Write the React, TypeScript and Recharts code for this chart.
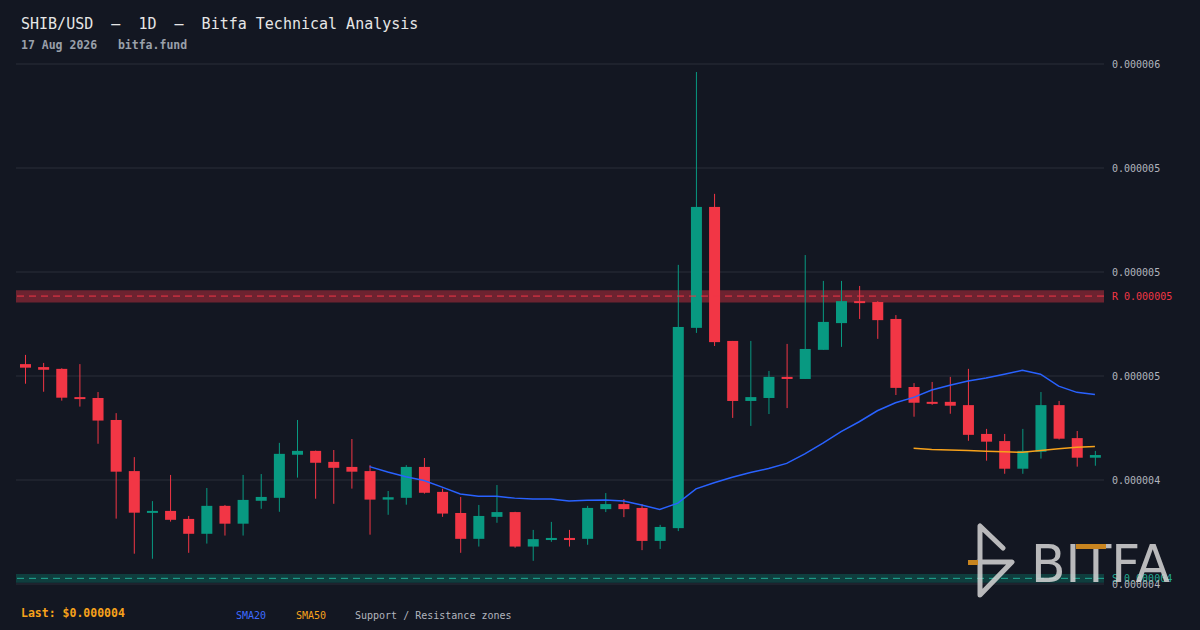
import {
  ComposedChart,
  Bar,
  Line,
  XAxis,
  YAxis,
  CartesianGrid,
  ReferenceArea,
  ReferenceLine,
} from 'recharts';

// prices are in millionths of a dollar (4.74 -> $0.00000474)
const OPEN = [
  4.740, 4.730, 4.724, 4.629, 4.626, 4.552, 4.380, 4.240, 4.246, 4.219,
  4.169, 4.263, 4.203, 4.280, 4.290, 4.435, 4.448, 4.411, 4.394, 4.380,
  4.284, 4.290, 4.394, 4.310, 4.239, 4.152, 4.226, 4.242, 4.126, 4.148,
  4.155, 4.152, 4.252, 4.269, 4.256, 4.145, 4.188, 4.862, 5.269, 4.818,
  4.616, 4.626, 4.697, 4.690, 4.788, 4.878, 4.952, 4.949, 4.892, 4.663,
  4.613, 4.613, 4.602, 4.505, 4.481, 4.388, 4.445, 4.602, 4.491, 4.425,
];
const HIGH = [
  4.771, 4.744, 4.726, 4.740, 4.646, 4.575, 4.427, 4.279, 4.367, 4.229,
  4.323, 4.266, 4.367, 4.370, 4.475, 4.552, 4.449, 4.451, 4.488, 4.400,
  4.313, 4.400, 4.424, 4.321, 4.293, 4.266, 4.333, 4.243, 4.182, 4.209,
  4.182, 4.263, 4.306, 4.286, 4.269, 4.199, 5.074, 5.723, 5.313, 4.818,
  4.818, 4.717, 4.808, 5.107, 5.020, 5.020, 5.003, 4.952, 4.905, 4.676,
  4.680, 4.697, 4.724, 4.522, 4.505, 4.522, 4.646, 4.616, 4.515, 4.448,
];
const LOW = [
  4.674, 4.647, 4.617, 4.597, 4.472, 4.220, 4.102, 4.085, 4.210, 4.105,
  4.136, 4.163, 4.163, 4.253, 4.243, 4.358, 4.287, 4.270, 4.321, 4.166,
  4.233, 4.267, 4.304, 4.226, 4.105, 4.126, 4.206, 4.122, 4.078, 4.142,
  4.126, 4.132, 4.242, 4.225, 4.114, 4.118, 4.178, 4.845, 4.801, 4.559,
  4.532, 4.572, 4.592, 4.690, 4.788, 4.798, 4.892, 4.825, 4.636, 4.563,
  4.603, 4.573, 4.482, 4.415, 4.371, 4.371, 4.422, 4.486, 4.395, 4.398,
];
const CLOSE = [
  4.728, 4.721, 4.627, 4.624, 4.550, 4.378, 4.240, 4.246, 4.216, 4.169,
  4.263, 4.203, 4.283, 4.293, 4.438, 4.448, 4.408, 4.391, 4.378, 4.284,
  4.292, 4.394, 4.307, 4.237, 4.152, 4.229, 4.242, 4.126, 4.151, 4.155,
  4.148, 4.256, 4.269, 4.252, 4.145, 4.192, 4.865, 5.269, 4.814, 4.616,
  4.629, 4.697, 4.690, 4.791, 4.882, 4.952, 4.946, 4.888, 4.660, 4.610,
  4.607, 4.600, 4.502, 4.479, 4.388, 4.448, 4.602, 4.489, 4.425, 4.434,
];

// moving averages start once enough candles exist
const SMA20_VALUES = [
  4.395, 4.377, 4.361, 4.348, 4.326, 4.303, 4.295, 4.295, 4.289, 4.286,
  4.286, 4.279, 4.282, 4.283, 4.279, 4.266, 4.251, 4.272, 4.320, 4.341,
  4.359, 4.375, 4.389, 4.406, 4.438, 4.474, 4.513, 4.546, 4.583, 4.610,
  4.628, 4.653, 4.669, 4.683, 4.693, 4.706, 4.719, 4.706, 4.666, 4.645,
  4.638,
];
const SMA50_VALUES = [
  4.457, 4.453, 4.451, 4.449, 4.447, 4.445, 4.443, 4.449, 4.455, 4.460, 4.463,
];

const RESISTANCE = { low: 4.947, mid: 4.969, high: 4.989 };
const SUPPORT = { low: 4.004, mid: 4.019, high: 4.034 };

const Y_TICKS = [4.0, 4.35, 4.7, 5.05, 5.4, 5.75];

const BG = '#131722';
const GRID = '#2a2e39';
const UP = '#089981';
const DOWN = '#f23645';
const BLUE = '#2962ff';
const ORANGE = '#f7a21b';
const MONO = '"DejaVu Sans Mono", monospace';

const fmt = (v: number) => (v / 1e6).toFixed(6);

const rows = OPEN.map((o, i) => ({
  i,
  open: o,
  high: HIGH[i],
  low: LOW[i],
  close: CLOSE[i],
  range: [LOW[i], HIGH[i]],
  sma20: i >= OPEN.length - SMA20_VALUES.length ? SMA20_VALUES[i - (OPEN.length - SMA20_VALUES.length)] : null,
  sma50: i >= OPEN.length - SMA50_VALUES.length ? SMA50_VALUES[i - (OPEN.length - SMA50_VALUES.length)] : null,
}));

// ─── Candle shape: bar covers low..high, body is derived from it ────────────
function Candle(props: any) {
  const { x, y, width, height, payload } = props;
  if (!payload) return null;
  const { open, close, high, low } = payload;
  const color = close >= open ? UP : DOWN;
  const top = Math.min(y, y + height);
  const h = Math.abs(height);
  const k = h / (high - low);
  const bodyTop = top + (high - Math.max(open, close)) * k;
  const bodyH = Math.max(Math.abs(open - close) * k, 2);
  const cx = x + width / 2;
  return (
    <g>
      <line x1={cx} x2={cx} y1={top} y2={top + h} stroke={color} strokeWidth={1} />
      <rect x={x} y={bodyTop} width={width} height={bodyH} fill={color} />
    </g>
  );
}

function YTick({ x, y, payload }: any) {
  return (
    <text x={x} y={y} dy={4} fill="#b2b5be" fontSize={10} fontFamily={MONO} textAnchor="start">
      {fmt(payload.value)}
    </text>
  );
}

function ZoneLabel({ viewBox, text, color }: any) {
  if (!viewBox) return null;
  return (
    <text x={viewBox.x + viewBox.width + 8} y={viewBox.y} dy={4} fill={color} fontSize={10} fontFamily={MONO}>
      {text}
    </text>
  );
}

function Logo() {
  return (
    <g opacity={0.85}>
      <path
        d="M1003,548 L980,526 L980,595 L1012,562 L978,562"
        fill="none"
        stroke="#d6d6d6"
        strokeWidth={5}
        strokeLinecap="round"
        strokeLinejoin="round"
      />
      <rect x={968} y={560} width={10} height={5} fill="#e8971f" />
      <text
        x={1031}
        y={582}
        fontSize={52}
        fontFamily="'DejaVu Sans', sans-serif"
        fill="#d6d6d6"
        textLength={139}
        lengthAdjust="spacingAndGlyphs"
      >
        BITFA
      </text>
      <rect x={1076} y={544} width={30} height={5} fill="#e8971f" />
    </g>
  );
}

export default function App() {
  return (
    <div style={{ position: 'absolute', left: 0, top: 0, width: 1200, height: 630, background: BG, overflow: 'hidden' }}>
      <ComposedChart width={1200} height={630} data={rows} margin={{ top: 64, right: 0, bottom: 46, left: 16 }}>
        <CartesianGrid stroke={GRID} vertical={false} />
        <XAxis dataKey="i" hide />
        <YAxis
          orientation="right"
          width={96}
          domain={[4.0, 5.75]}
          ticks={Y_TICKS}
          axisLine={false}
          tickLine={false}
          tick={<YTick />}
          allowDataOverflow
        />
        <ReferenceArea y1={RESISTANCE.low} y2={RESISTANCE.high} fill="rgba(242,54,69,0.4)" fillOpacity={1} stroke="none" />
        <ReferenceLine
          y={RESISTANCE.mid}
          stroke={DOWN}
          strokeDasharray="7 5"
          strokeWidth={1}
          label={<ZoneLabel text={`R ${fmt(RESISTANCE.mid)}`} color={DOWN} />}
        />
        <ReferenceArea y1={SUPPORT.low} y2={SUPPORT.high} fill="rgba(8,153,129,0.3)" fillOpacity={1} stroke="none" />
        <ReferenceLine
          y={SUPPORT.mid}
          stroke="#22ab94"
          strokeDasharray="7 5"
          strokeWidth={1}
          label={<ZoneLabel text={`S ${fmt(SUPPORT.mid)}`} color="#22ab94" />}
        />
        <Bar dataKey="range" barSize={11} shape={<Candle />} isAnimationActive={false} />
        <Line dataKey="sma20" stroke={BLUE} strokeWidth={1.5} dot={false} type="linear" isAnimationActive={false} />
        <Line dataKey="sma50" stroke={ORANGE} strokeWidth={1.5} dot={false} type="linear" isAnimationActive={false} />
      </ComposedChart>
      <svg width={1200} height={630} style={{ position: 'absolute', left: 0, top: 0, pointerEvents: 'none' }}>
        <text x={21} y={29} fill="#e6e6e6" fontSize={15} fontFamily={MONO} style={{ whiteSpace: 'pre' }}>
          {'SHIB/USD  –  1D  –  Bitfa Technical Analysis'}
        </text>
        <text x={21} y={48.5} fill="#9aa0aa" fontSize={11.5} fontWeight={700} fontFamily={MONO} style={{ whiteSpace: 'pre' }}>
          {'17 Aug 2026   bitfa.fund'}
        </text>
        <text x={21} y={617} fill={ORANGE} fontSize={11.5} fontWeight={700} fontFamily={MONO}>
          {`Last: $${fmt(CLOSE[CLOSE.length - 1])}`}
        </text>
        <text x={236} y={619} fill="#3d6bff" fontSize={10} fontFamily={MONO}>SMA20</text>
        <text x={296} y={619} fill={ORANGE} fontSize={10} fontFamily={MONO}>SMA50</text>
        <text x={355} y={619} fill="#b2b5be" fontSize={10} fontFamily={MONO}>Support / Resistance zones</text>
        <Logo />
      </svg>
    </div>
  );
}
